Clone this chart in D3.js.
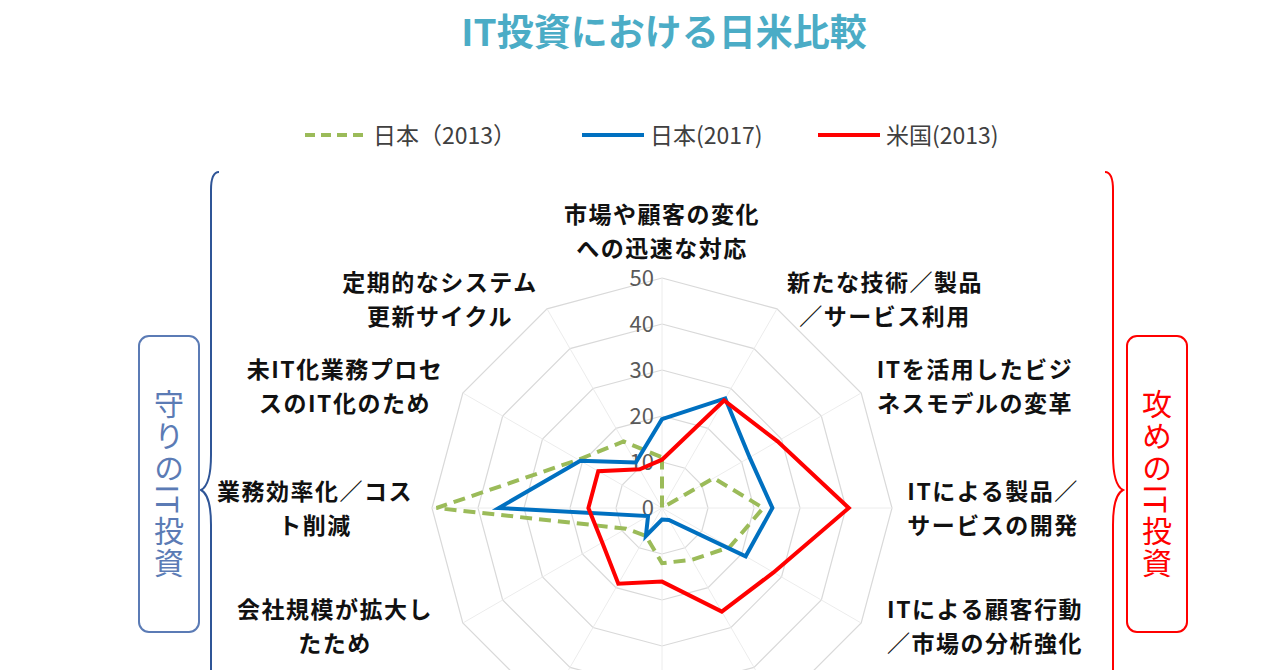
<!DOCTYPE html>
<html><head><meta charset="utf-8">
<script src="https://cdn.jsdelivr.net/npm/d3@7"></script>
<style>body{margin:0;background:#fff;font-family:"Noto Sans CJK JP","Noto Sans",sans-serif}</style>
</head><body><svg id="c" width="1280" height="670"></svg>
<script>
// axis labels, clockwise from top
var axes = [
	["市場や顧客の変化", "への迅速な対応"],
	["新たな技術／製品", "／サービス利用"],
	["ITを活用したビジ", "ネスモデルの変革"],
	["ITによる製品／", "サービスの開発"],
	["ITによる顧客行動", "／市場の分析強化"],
	["", ""], ["", ""], ["", ""],
	["会社規模が拡大し", "たため"],
	["業務効率化／コス", "ト削減"],
	["未IT化業務プロセ", "スのIT化のため"],
	["定期的なシステム", "更新サイクル"]
];
var labelXY = [[662,215],[885,283],[975,370],[993,492],[985,610],[0,0],[0,0],[0,0],[335,610],[315,492],[345,370],[440,283]];
var japan2013 = [11, 0, 13, 22, 17, 13, 12, 7, 9, 49, 21, 16.7];
var japan2017 = [19.3, 27.5, 22, 24, 21, 3, 2.5, 7, 3.5, 35.5, 20.5, 11.4];
var us2013 = [10.5, 27, 29, 40.6, 28, 26, 16, 19, 15, 16, 16, 9.7];
var ticks = [0, 10, 20, 30, 40, 50];
var seriesNames = ["日本（2013）", "日本(2017)", "米国(2013)"];

var svg = d3.select("#c");
var cx = 662, cy = 508;
var r = d3.scaleLinear().domain([0, 50]).range([0, 230]);
var ang = function(i){ return i * Math.PI * 2 / 12; };
var pt = function(v, i){ return [cx + r(v) * Math.sin(ang(i)), cy - r(v) * Math.cos(ang(i))]; };

// grid
ticks.slice(1).forEach(function(t){
	svg.append("path").attr("d", d3.line()(d3.range(12).map(function(i){ return pt(t, i); })) + "Z")
		.attr("fill", "none").attr("stroke", "#d9d9d9").attr("stroke-width", 1.2);
});
d3.range(12).forEach(function(i){
	var p = pt(50, i);
	svg.append("line").attr("x1", cx).attr("y1", cy).attr("x2", p[0]).attr("y2", p[1])
		.attr("stroke", "#ececec").attr("stroke-width", 1);
});
ticks.forEach(function(t){
	svg.append("text").attr("x", cx - 8).attr("y", cy - r(t) + 8).attr("text-anchor", "end")
		.attr("font-size", 22).attr("fill", "#595959").text(t);
});

// series
var line = d3.line().curve(d3.curveLinearClosed);
function draw(vals, color, dash){
	svg.append("path").attr("d", line(vals.map(pt))).attr("fill", "none")
		.attr("stroke", color).attr("stroke-width", 4).attr("stroke-dasharray", dash || null)
		.attr("stroke-linejoin", "miter");
}
draw(japan2013, "#9bbb59", "12,7");
draw(japan2017, "#0070c0");
draw(us2013, "#ff0000");

// axis labels
axes.forEach(function(a, i){
	if(!a[0]) return;
	var t = svg.append("text").attr("text-anchor", "middle").attr("font-size", 23).attr("font-weight", "bold")
		.attr("letter-spacing", 1.5).attr("fill", "#111");
	t.append("tspan").attr("x", labelXY[i][0]).attr("y", labelXY[i][1] + 8).text(a[0]);
	t.append("tspan").attr("x", labelXY[i][0]).attr("y", labelXY[i][1] + 42).text(a[1]);
});

// title
svg.append("text").attr("x", 664).attr("y", 46).attr("text-anchor", "middle").attr("font-size", 37)
	.attr("font-weight", "bold").attr("fill", "#4bacc6").text("IT投資における日米比較");

// legend
var leg = [[305, "#9bbb59", "10,6"], [582, "#0070c0", null], [818, "#ff0000", null]];
leg.forEach(function(l, i){
	svg.append("line").attr("x1", l[0]).attr("x2", l[0] + 62).attr("y1", 135).attr("y2", 135)
		.attr("stroke", l[1]).attr("stroke-width", 4).attr("stroke-dasharray", l[2]);
	svg.append("text").attr("x", l[0] + 68).attr("y", 144).attr("font-size", 23).attr("fill", "#404040").text(seriesNames[i]);
});

// braces and side boxes
function brace(x, dir, color){
	var d = "M" + (x + 8 * dir) + ",172 Q" + x + ",172 " + x + ",190 L" + x + ",455 Q" + x + ",485 " + (x - 10 * dir) + ",490 Q" + x + ",495 " + x + ",525 L" + x + ",670";
	svg.append("path").attr("d", d).attr("fill", "none").attr("stroke", color).attr("stroke-width", 2);
}
brace(211, 1, "#2f5597");
brace(1113, -1, "#ff0000");
function sideBox(x, color, txt){
	svg.append("rect").attr("x", x).attr("y", 336).attr("width", 60).attr("height", 296).attr("rx", 10)
		.attr("fill", "#fff").attr("stroke", color).attr("stroke-width", 2);
	svg.append("text").attr("x", x + 30).attr("y", 484).attr("text-anchor", "middle").attr("dominant-baseline", "central")
		.attr("writing-mode", "vertical-rl").attr("font-size", 30).attr("fill", color).attr("letter-spacing", 2).text(txt);
}
sideBox(139, "#5b7bb5", "守りのIT投資");
sideBox(1127, "#ff0000", "攻めのIT投資");
</script></body></html>
